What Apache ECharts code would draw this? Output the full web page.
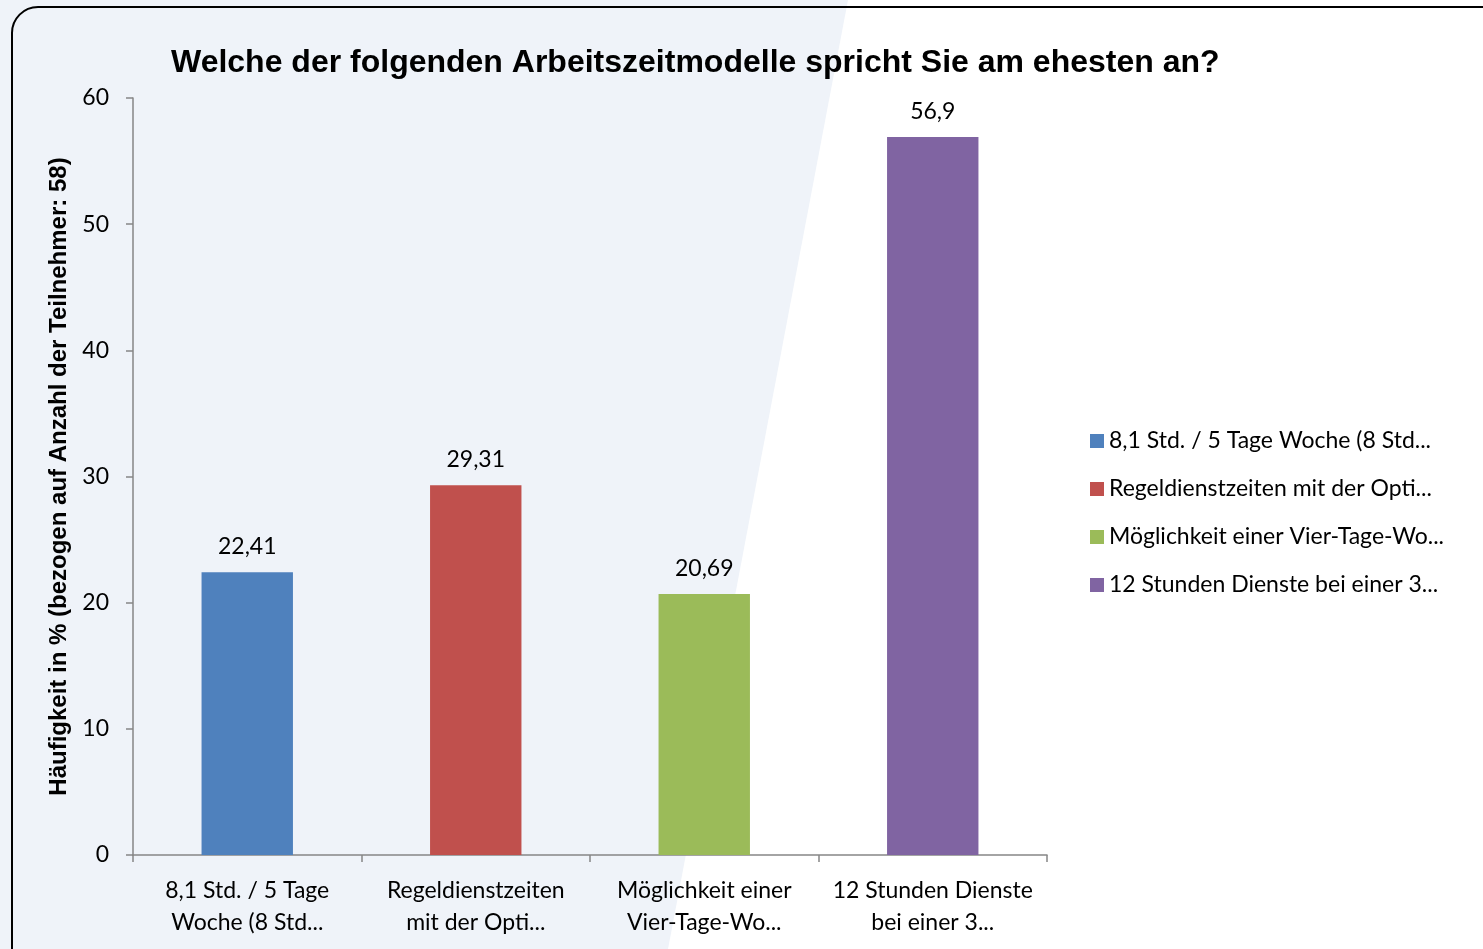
<!DOCTYPE html>
<html>
<head>
<meta charset="utf-8">
<script src="https://cdn.jsdelivr.net/npm/echarts@6/dist/echarts.min.js"></script>
<style>
html, body { margin: 0; padding: 0; background: #fff; }
#chart { width: 1483px; height: 949px; }
</style>
</head>
<body>
<div id="chart"></div>
<script>
// data
const seriesNames = ['8,1 Std. / 5 Tage Woche (8 Std...', 'Regeldienstzeiten mit der Opti...', 'Möglichkeit einer Vier-Tage-Wo...', '12 Stunden Dienste bei einer 3...'];
const tickLabels = ['8,1 Std. / 5 Tage\nWoche (8 Std...', 'Regeldienstzeiten\nmit der Opti...', 'Möglichkeit einer\nVier-Tage-Wo...', '12 Stunden Dienste\nbei einer 3...'];
const values = [22.41, 29.31, 20.69, 56.9];
const colors = ['#4f81bd', '#c0504d', '#9bbb59', '#8064a2'];

const labelFont = 'Lato, "Open Sans", sans-serif';

let chart = echarts.init(document.getElementById('chart'));

let series = seriesNames.map(function (name, i) {
    return {
        name: name,
        type: 'bar',
        stack: 'all',
        barWidth: '40%',
        itemStyle: { color: colors[i] },
        label: {
            show: true,
            position: 'top',
            distance: 14,
            fontFamily: labelFont,
            fontSize: 23,
            color: '#000',
            formatter: function (p) { return String(p.value).replace('.', ','); }
        },
        data: values.map(function (v, j) { return j === i ? v : '-'; })
    };
});

let option = {
    backgroundColor: '#fff',
    animation: false,
    graphic: [
        {
            type: 'polygon',
            z: -10,
            shape: { points: [[0, 0], [848, 0], [668, 949], [0, 949]] },
            style: { fill: '#eff3f9' }
        },
        {
            type: 'rect',
            z: -5,
            shape: { x: 12, y: 7, width: 1500, height: 980, r: 26 },
            style: { fill: 'none', stroke: '#000', lineWidth: 2 }
        }
    ],
    title: {
        text: 'Welche der folgenden Arbeitszeitmodelle spricht Sie am ehesten an?',
        left: 166,
        top: 42,
        textStyle: {
            fontFamily: '"Liberation Sans", Arial, sans-serif',
            fontWeight: 'bold',
            fontSize: 32,
            color: '#000'
        }
    },
    legend: {
        orient: 'vertical',
        left: 1085,
        top: 424,
        itemWidth: 14,
        itemHeight: 14,
        itemGap: 24,
        icon: 'rect',
        data: seriesNames,
        textStyle: { fontFamily: labelFont, fontSize: 23, lineHeight: 24, color: '#000' }
    },
    grid: { left: 133, right: 436, top: 98, bottom: 94 },
    xAxis: {
        type: 'category',
        data: tickLabels,
        axisLine: { lineStyle: { color: '#868686', width: 1.5 } },
        axisTick: { show: true, length: 7, lineStyle: { color: '#868686', width: 1.5 } },
        axisLabel: {
            fontFamily: labelFont,
            fontSize: 23,
            lineHeight: 32,
            color: '#000',
            margin: 20,
            interval: 0
        }
    },
    yAxis: {
        type: 'value',
        min: 0,
        max: 60,
        interval: 10,
        name: 'Häufigkeit in % (bezogen auf Anzahl der Teilnehmer: 58)',
        nameLocation: 'middle',
        nameRotate: 90,
        nameGap: 61,
        nameTextStyle: {
            fontFamily: '"Liberation Sans", Arial, sans-serif',
            fontWeight: 'bold',
            fontSize: 24,
            color: '#000'
        },
        axisLine: { show: true, lineStyle: { color: '#868686', width: 1.5 } },
        axisTick: { show: true, length: 7, lineStyle: { color: '#868686', width: 1.5 } },
        splitLine: { show: false },
        axisLabel: {
            fontFamily: labelFont,
            fontSize: 23,
            color: '#000',
            margin: 24
        }
    },
    series: series
};

chart.setOption(option);
</script>
</body>
</html>
